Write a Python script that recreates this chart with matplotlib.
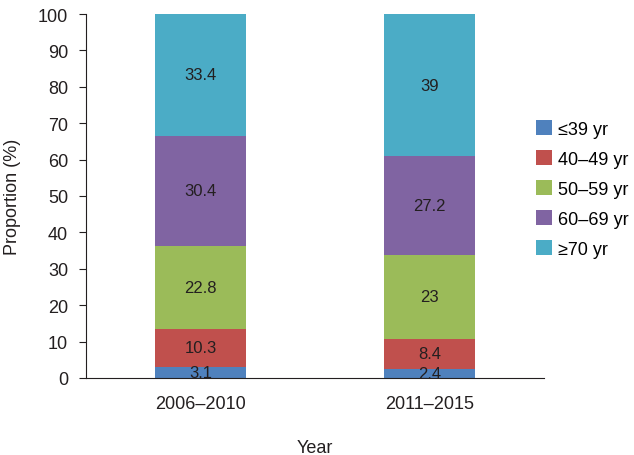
import matplotlib
matplotlib.use("Agg")
import matplotlib.pyplot as plt

plt.rcParams['font.family'] = ['Liberation Sans', 'DejaVu Sans']

categories = ["2006\u20132010", "2011\u20132015"]
groups = ["\u226439 yr", "40\u201349 yr", "50\u201359 yr", "60\u201369 yr", "\u226570 yr"]
values = {
    "\u226439 yr": [3.1, 2.4],
    "40\u201349 yr": [10.3, 8.4],
    "50\u201359 yr": [22.8, 23],
    "60\u201369 yr": [30.4, 27.2],
    "\u226570 yr": [33.4, 39],
}
labels = {
    "\u226439 yr": ["3.1", "2.4"],
    "40\u201349 yr": ["10.3", "8.4"],
    "50\u201359 yr": ["22.8", "23"],
    "60\u201369 yr": ["30.4", "27.2"],
    "\u226570 yr": ["33.4", "39"],
}
colors = ["#4F81BD", "#C0504D", "#9BBB59", "#8064A2", "#4BACC6"]
ink = '#231F20'

fig = plt.figure(figsize=(6.34, 4.56), dpi=100)
ax = fig.add_axes([0.136, 0.169, 0.722, 0.798])
x = [0, 1]
bottoms = [0.0, 0.0]
for g, c in zip(groups, colors):
    v = values[g]
    ax.bar(x, v, width=0.4, bottom=bottoms, color=c, label=g)
    for i in range(2):
        ax.text(x[i], bottoms[i] + v[i] / 2, labels[g][i], ha='center', va='center',
                fontsize=12, color=ink)
    bottoms = [b + vv for b, vv in zip(bottoms, v)]

ax.set_xlim(-0.5, 1.5)
ax.set_ylim(0, 100)
ax.set_yticks(range(0, 101, 10))
ax.set_xticks(x)
ax.set_xticklabels(categories)
ax.tick_params(axis='x', length=0, labelsize=13, pad=12, colors=ink)
ax.tick_params(axis='y', length=5, labelsize=13, direction='out', colors=ink, pad=8)
for s in ['top', 'right']:
    ax.spines[s].set_visible(False)
ax.spines['left'].set_color(ink)
ax.spines['bottom'].set_color(ink)
ax.set_ylabel("Proportion (%)", fontsize=13, color=ink, labelpad=12)
ax.set_xlabel("Year", fontsize=13, color=ink, labelpad=20)

ax.legend(loc='upper left', bbox_to_anchor=(0.983, 0.708), frameon=False, fontsize=13,
          handlelength=0.9, handleheight=0.9, labelspacing=0.68, handletextpad=0.3,
          borderaxespad=0.0, borderpad=0.0)
fig.savefig("out.png", dpi=100)
